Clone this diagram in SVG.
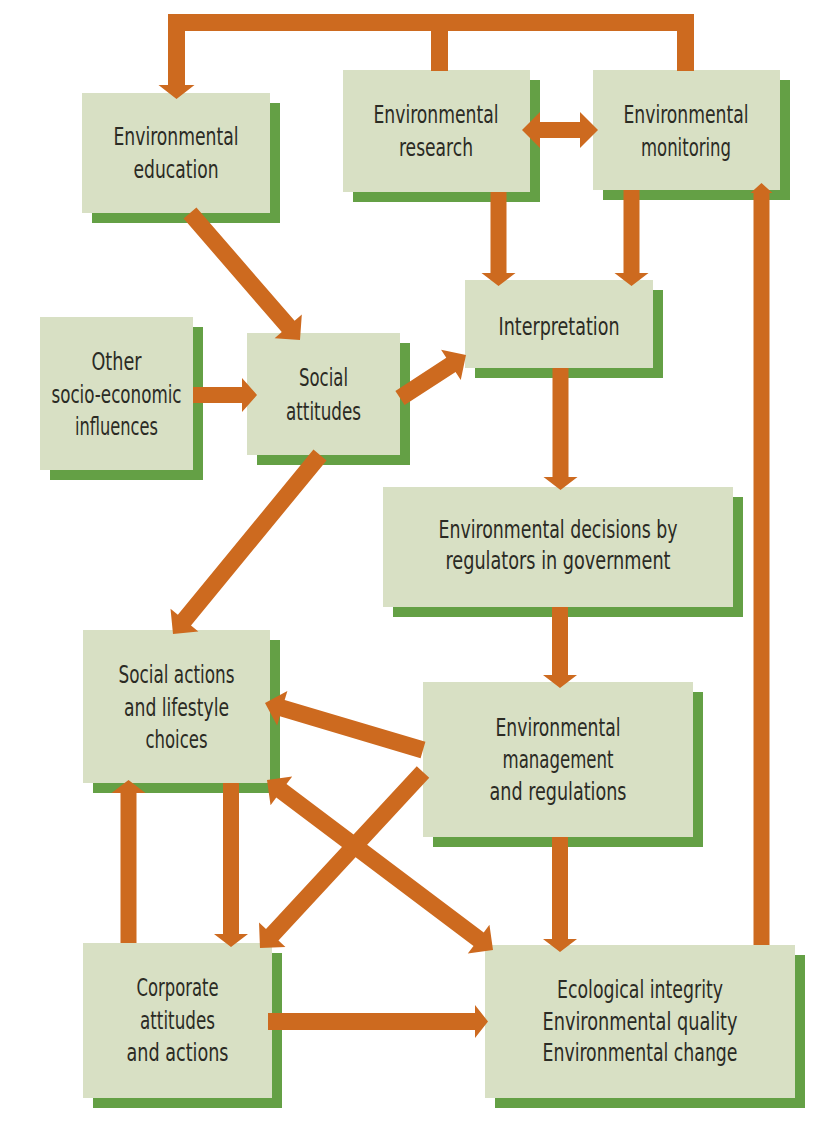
<svg xmlns="http://www.w3.org/2000/svg" width="815" height="1122" viewBox="0 0 815 1122">
<style>
.bg{fill:#ffffff}
.box{fill:#d8e0c4}
.sh{fill:#64a045}
.ar{fill:#cd6a1f}
text{font-family:"Liberation Sans Narrow","DejaVu Sans Condensed","Liberation Sans",sans-serif;font-size:24px;fill:#2b2b24;text-anchor:middle}
</style>
<rect class="bg" x="0" y="0" width="815" height="1122"/>

<g id="node-education">
<rect class="sh" x="92" y="103" width="188" height="120"/>
<rect class="box" x="82" y="93" width="188" height="120"/>
<text x="176" y="145" textLength="125" lengthAdjust="spacingAndGlyphs">Environmental</text>
<text x="176" y="178" textLength="85" lengthAdjust="spacingAndGlyphs">education</text>
</g>
<g id="node-research">
<rect class="sh" x="353" y="80" width="187" height="122"/>
<rect class="box" x="343" y="70" width="187" height="122"/>
<text x="436" y="123" textLength="125" lengthAdjust="spacingAndGlyphs">Environmental</text>
<text x="436" y="156" textLength="74" lengthAdjust="spacingAndGlyphs">research</text>
</g>
<g id="node-monitoring">
<rect class="sh" x="603" y="80" width="187" height="120"/>
<rect class="box" x="593" y="70" width="187" height="120"/>
<text x="686" y="123" textLength="125" lengthAdjust="spacingAndGlyphs">Environmental</text>
<text x="686" y="156" textLength="90" lengthAdjust="spacingAndGlyphs">monitoring</text>
</g>
<g id="node-interpretation">
<rect class="sh" x="475" y="290" width="188" height="88"/>
<rect class="box" x="465" y="280" width="188" height="88"/>
<text x="559" y="335" textLength="121" lengthAdjust="spacingAndGlyphs">Interpretation</text>
</g>
<g id="node-other">
<rect class="sh" x="50" y="327" width="153" height="153"/>
<rect class="box" x="40" y="317" width="153" height="153"/>
<text x="116.5" y="370" textLength="50" lengthAdjust="spacingAndGlyphs">Other</text>
<text x="116.5" y="403" textLength="130" lengthAdjust="spacingAndGlyphs">socio-economic</text>
<text x="116.5" y="435" textLength="83" lengthAdjust="spacingAndGlyphs">influences</text>
</g>
<g id="node-social-attitudes">
<rect class="sh" x="257" y="343" width="153" height="122"/>
<rect class="box" x="247" y="333" width="153" height="122"/>
<text x="323.5" y="386" textLength="49" lengthAdjust="spacingAndGlyphs">Social</text>
<text x="323.5" y="420" textLength="75" lengthAdjust="spacingAndGlyphs">attitudes</text>
</g>
<g id="node-decisions">
<rect class="sh" x="393" y="497" width="350" height="120"/>
<rect class="box" x="383" y="487" width="350" height="120"/>
<text x="558" y="538" textLength="239" lengthAdjust="spacingAndGlyphs">Environmental decisions by</text>
<text x="558" y="569" textLength="225" lengthAdjust="spacingAndGlyphs">regulators in government</text>
</g>
<g id="node-social-actions">
<rect class="sh" x="93" y="640" width="187" height="153"/>
<rect class="box" x="83" y="630" width="187" height="153"/>
<text x="176.5" y="683" textLength="116" lengthAdjust="spacingAndGlyphs">Social actions</text>
<text x="176.5" y="716" textLength="105" lengthAdjust="spacingAndGlyphs">and lifestyle</text>
<text x="176.5" y="748" textLength="62" lengthAdjust="spacingAndGlyphs">choices</text>
</g>
<g id="node-management">
<rect class="sh" x="433" y="692" width="270" height="155"/>
<rect class="box" x="423" y="682" width="270" height="155"/>
<text x="558" y="736" textLength="125" lengthAdjust="spacingAndGlyphs">Environmental</text>
<text x="558" y="768" textLength="111" lengthAdjust="spacingAndGlyphs">management</text>
<text x="558" y="800" textLength="137" lengthAdjust="spacingAndGlyphs">and regulations</text>
</g>
<g id="node-corporate">
<rect class="sh" x="93" y="953" width="189" height="155"/>
<rect class="box" x="83" y="943" width="189" height="155"/>
<text x="177.5" y="996" textLength="82" lengthAdjust="spacingAndGlyphs">Corporate</text>
<text x="177.5" y="1029" textLength="75" lengthAdjust="spacingAndGlyphs">attitudes</text>
<text x="177.5" y="1061" textLength="102" lengthAdjust="spacingAndGlyphs">and actions</text>
</g>
<g id="node-ecological">
<rect class="sh" x="495" y="955" width="310" height="153"/>
<rect class="box" x="485" y="945" width="310" height="153"/>
<text x="640" y="998" textLength="166" lengthAdjust="spacingAndGlyphs">Ecological integrity</text>
<text x="640" y="1030" textLength="195" lengthAdjust="spacingAndGlyphs">Environmental quality</text>
<text x="640" y="1061" textLength="195" lengthAdjust="spacingAndGlyphs">Environmental change</text>
</g>

<g id="connectors">
<!-- top feedback bar to education -->
<polygon class="ar" points="168,14 694,14 694,71 677,71 677,31 448,31 448,71 431,71 431,31 185,31 185,85 194.5,85 176.5,99 158.5,85 168,85"/>
<!-- research <-> monitoring -->
<polygon class="ar" points="522,130 540,112 540,122 580,122 580,112 598,130 580,148 580,138 540,138 540,148"/>
<!-- research -> interpretation -->
<polygon class="ar" points="490.5,192 506.5,192 506.5,273 515.5,273 498.5,286 481.5,273 490.5,273"/>
<!-- monitoring -> interpretation -->
<polygon class="ar" points="623.5,190 639.5,190 639.5,273 648.5,273 631.5,286 614.5,273 623.5,273"/>
<!-- interpretation -> decisions -->
<polygon class="ar" points="552.5,368 568.5,368 568.5,477 577.5,477 560.5,490 543.5,477 552.5,477"/>
<!-- decisions -> management -->
<polygon class="ar" points="552,607 568,607 568,675 577,675 560,688 543,675 552,675"/>
<!-- management -> ecological -->
<polygon class="ar" points="552,837 568,837 568,939 577,939 560,952 543,939 552,939"/>
<!-- other -> social attitudes -->
<polygon class="ar" points="193,387 242,387 242,378 257,395 242,412 242,403 193,403"/>
<!-- education -> social attitudes -->
<polygon class="ar" points="196.43,207.43 294.64,320.82 301.82,314.60 300,340 274.60,338.18 281.78,331.96 183.57,218.57"/>
<!-- social attitudes -> interpretation -->
<polygon class="ar" points="395.36,390.88 446.28,357.71 441.09,349.75 466,355 460.75,379.91 455.56,371.95 404.64,405.12"/>
<!-- social attitudes -> social actions -->
<polygon class="ar" points="313.43,449.61 177.85,614.70 170.51,608.67 173,634 198.33,631.51 190.99,625.48 326.57,460.39"/>
<!-- management -> social actions -->
<polygon class="ar" points="425.42,741.85 284.67,699.98 287.38,690.88 265,703 277.12,725.38 279.83,716.28 420.58,758.15"/>
<!-- management -> corporate -->
<polygon class="ar" points="416.76,766.22 265.99,929.01 259.02,922.56 260,948 285.44,947.02 278.47,940.57 429.24,777.78"/>
<!-- social actions <-> ecological -->
<polygon class="ar" points="267,780 292.20,776.44 286.49,784.03 483.73,932.39 489.44,924.80 493,950 467.80,953.56 473.51,945.97 276.27,797.61 270.56,805.20"/>
<!-- corporate -> social actions -->
<polygon class="ar" points="120.5,943 120.5,793 111.5,793 128.5,780 145.5,793 136.5,793 136.5,943"/>
<!-- social actions -> corporate -->
<polygon class="ar" points="223,783 239,783 239,934 248,934 231,947 214,934 223,934"/>
<!-- corporate -> ecological -->
<polygon class="ar" points="268,1013 475,1013 475,1005 488,1021.5 475,1038 475,1030 268,1030"/>
<!-- ecological -> monitoring -->
<polygon class="ar" points="753.5,945 753.5,193 750.5,193 761.5,183 772.5,193 769.5,193 769.5,945"/>
</g>
</svg>
